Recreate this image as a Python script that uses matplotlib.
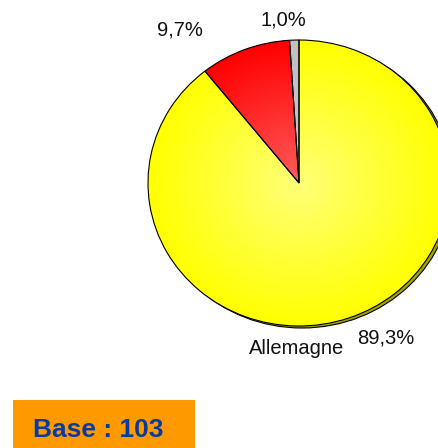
#
# Camembert des réponses pour l'Allemagne, avec la base de l'échantillon
#
import numpy as np
import matplotlib.pyplot as plt
from matplotlib.colors import LinearSegmentedColormap
from matplotlib.patches import Ellipse, Rectangle

plt.rcParams['font.family'] = ['Liberation Sans', 'DejaVu Sans']

# Données
pays = 'Allemagne'
base = 103
parts = [1.0, 9.7, 89.3]
couleurs = ['#c0c0c0', '#ff0000', '#ffff00']
couleurs_claires = ['#c8c8c8', '#ff5c5c', '#ffff78']

# Emplacements des étiquettes (pixels, ligne de base)
pos_etiquettes = [(283, 25.5), (180, 35.5), (386, 343)]

W, H = 438, 448
cx, cy = 299, 183      # centre du camembert
rx, ry = 151, 143      # rayons horizontal / vertical

fig = plt.figure(figsize=(W / 100, H / 100), dpi=100)
ax = fig.add_axes([0, 0, 1, 1])

def px(x, y):
	return x / W, 1 - y / H

# ombre décalée vers la droite
ombre = Ellipse((3 / rx, -2 / ry), 2, 2, facecolor='#a3a300', edgecolor='black',
	linewidth=0.8, zorder=0)
ax.add_patch(ombre)

wedges, _ = ax.pie(parts, colors=couleurs, startangle=90, counterclock=True,
	wedgeprops=dict(edgecolor='none', linewidth=0))
for w in wedges:
	w.set_zorder(1)

# dégradé radial dans chaque part
g = np.linspace(-1, 1, 400)
gx, gy = np.meshgrid(g, g)
r = np.clip(np.sqrt(gx ** 2 + gy ** 2), 0, 1)
for w, c, cl in zip(wedges, couleurs, couleurs_claires):
	cmap = LinearSegmentedColormap.from_list('deg', [cl, c])
	im = ax.imshow(r, cmap=cmap, vmin=0, vmax=1, extent=(-1, 1, -1, 1),
		origin='lower', aspect='auto', zorder=2, interpolation='bilinear')
	im.set_clip_path(w)

# contours noirs par-dessus
contours, _ = ax.pie(parts, colors=['none'] * 3, startangle=90, counterclock=True,
	wedgeprops=dict(edgecolor='black', linewidth=0.8, facecolor='none'))
for w in contours:
	w.set_zorder(3)

ax.set_aspect('auto')
ax.set_xlim((0 - cx) / rx, (W - cx) / rx)
ax.set_ylim((cy - H) / ry, cy / ry)
ax.axis('off')

# pourcentages
for v, (x, y) in zip(parts, pos_etiquettes):
	fig.text(*px(x, y), ('%.1f%%' % v).replace('.', ','), fontsize=14.5,
		ha='center', va='baseline', color='#111111')

fig.text(*px(297, 354), pays, fontsize=14.5, ha='center', va='baseline', color='#111111')

# cadre de la base
fig.patches.append(Rectangle(px(13, 448), 182 / W, 48 / H, transform=fig.transFigure,
	facecolor='#ff9900', edgecolor='none', zorder=0))
fig.text(*px(98, 437), 'Base : %d' % base, fontsize=19, fontweight='bold',
	ha='center', va='baseline', color='#0a3a9c')

fig.savefig('out.png', dpi=100)
